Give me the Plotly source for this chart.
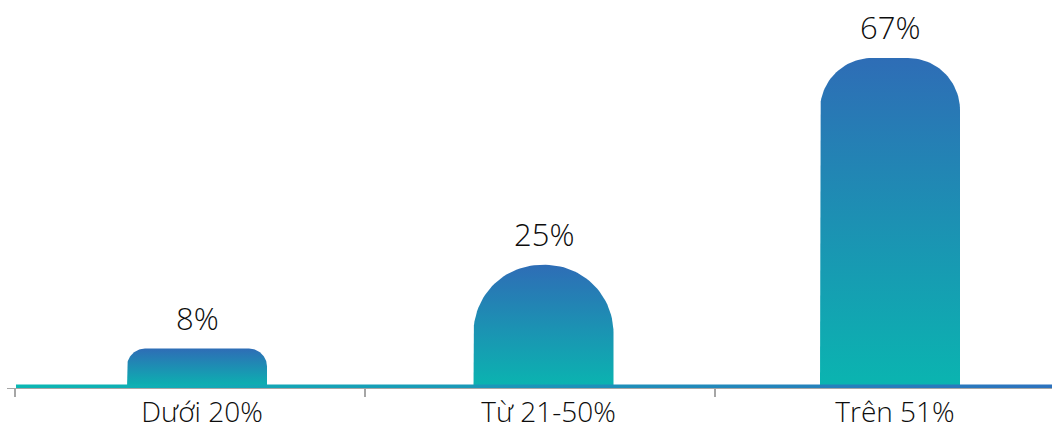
import numpy as np
import plotly.graph_objects as go

# ---- data ----
categories = ["Dưới 20%", "Từ 21-50%", "Trên 51%"]
values = [8, 25, 67]
value_labels = ["8%", "25%", "67%"]

# ---- style / layout constants ----
W, H = 1052, 430
ML, MR, MT, MB = 7, 0, 0, 42
PW, PH = W - ML - MR, H - MT - MB
CAT_PX = 346.5            # pixel spacing between bar centres
FIRST_CENTER_PX = 190     # first bar centre, from plot left
X_RANGE = [-FIRST_CENTER_PX / CAT_PX, (PW - FIRST_CENTER_PX) / CAT_PX]
TICK_PX = 350             # spacing of the axis tick marks
TICK0_PX = 8
X2_RANGE = [-TICK0_PX / TICK_PX, (PW - TICK0_PX) / TICK_PX]
Y_RANGE = [0, 78.78]
PX_X = PW / (X_RANGE[1] - X_RANGE[0])
PX_X2 = PW / (X2_RANGE[1] - X2_RANGE[0])
PX_Y = PH / (Y_RANGE[1] - Y_RANGE[0])
BAR_HALF_PX = 70
CORNER_PX = [18, 68, 52]
TEAL = "#0AB5B0"
BLUE = "#2E6DB6"
LINE_TEAL = "#0BB7B3"
LINE_BLUE = "#2C72BE"
TICK_GREY = "#A6A6A6"
FONT = "Open Sans"
TEXT_COLOR = "#0D0D0D"


def rounded_bar(xc, v, r):
    hw = BAR_HALF_PX / PX_X
    rx = r / PX_X
    ry = min(r / PX_Y, v)
    xl, xr = xc - hw, xc + hw
    t1 = np.linspace(np.pi, np.pi / 2, 30)
    t2 = np.linspace(np.pi / 2, 0, 30)
    xs = [xl] + list(xl + rx + rx * np.cos(t1)) + list(xr - rx + rx * np.cos(t2)) + [xr, xl]
    ys = [0] + list(v - ry + ry * np.sin(t1)) + list(v - ry + ry * np.sin(t2)) + [0, 0]
    return xs, ys


fig = go.Figure()

for i, (v, r) in enumerate(zip(values, CORNER_PX)):
    xs, ys = rounded_bar(i, v, r)
    fig.add_trace(go.Scatter(
        x=xs, y=ys, mode="lines", fill="toself",
        line=dict(width=0, color="rgba(0,0,0,0)"),
        fillgradient=dict(type="vertical", colorscale=[[0, TEAL], [1, BLUE]]),
        hoverinfo="skip", showlegend=False,
    ))

# baseline with horizontal gradient (on the tick axis)
bx0 = X2_RANGE[0] + (16 - ML) / PX_X2
bx1 = X2_RANGE[1]
bh = 3.5 / PX_Y
fig.add_trace(go.Scatter(
    x=[bx0, bx1, bx1, bx0, bx0], y=[0, 0, bh, bh, 0],
    xaxis="x2", yaxis="y",
    mode="lines", fill="toself",
    line=dict(width=0, color="rgba(0,0,0,0)"),
    fillgradient=dict(type="horizontal", colorscale=[[0, LINE_TEAL], [1, LINE_BLUE]]),
    hoverinfo="skip", showlegend=False,
))

for i, (v, lab) in enumerate(zip(values, value_labels)):
    fig.add_annotation(
        x=i, y=v, text=lab, showarrow=False, yanchor="bottom", yshift=8,
        font=dict(family=FONT, size=31, color=TEXT_COLOR, weight=300),
    )

fig.update_layout(
    width=W, height=H,
    margin=dict(l=ML, r=MR, t=MT, b=MB),
    paper_bgcolor="white", plot_bgcolor="white",
    showlegend=False,
    xaxis=dict(
        range=X_RANGE, tickvals=list(range(len(categories))), ticktext=categories,
        ticks="", showline=False, showgrid=False, zeroline=False,
        tickfont=dict(family=FONT, size=28, color=TEXT_COLOR, weight=300),
        ticklabelstandoff=5, ticklabelshift=5, automargin=False, fixedrange=True,
    ),
    xaxis2=dict(
        overlaying="x", anchor="y", side="bottom",
        range=X2_RANGE, tickvals=[0, 1, 2],
        ticks="outside", ticklen=8, tickwidth=2, tickcolor=TICK_GREY,
        showticklabels=False, showline=True, linecolor=TICK_GREY, linewidth=1,
        showgrid=False, zeroline=False, layer="below traces",
        automargin=False, fixedrange=True,
    ),
    yaxis=dict(range=Y_RANGE, visible=False, fixedrange=True, automargin=False),
)

fig.write_html("out.html")
